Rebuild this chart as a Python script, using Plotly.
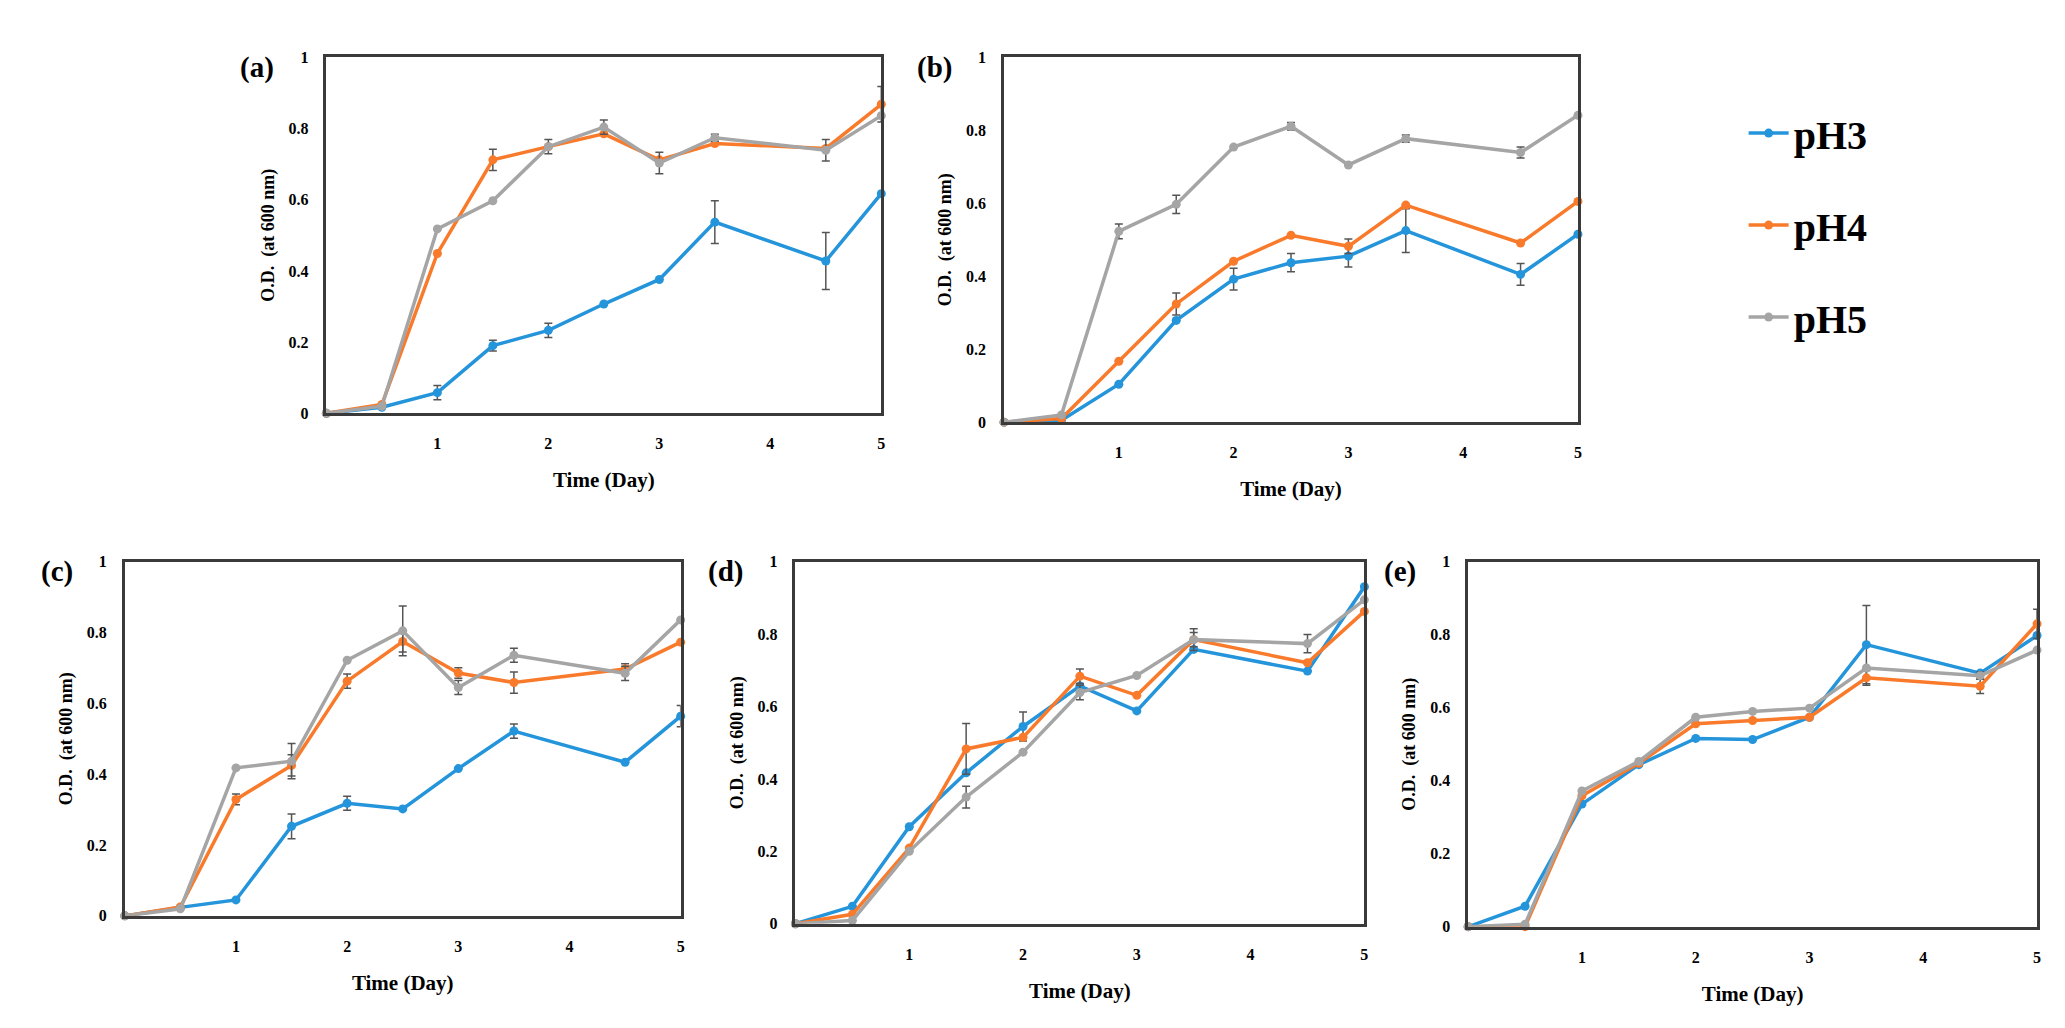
import plotly.graph_objects as go

W, H = 2065, 1028

x_days = [0, 0.5, 1, 1.5, 2, 2.5, 3, 3.5, 4.5, 5]
series_names = ["pH3", "pH4", "pH5"]
series_colors = ["#2494DB", "#F97A2A", "#A5A5A5"]
panel_labels = ["(a)", "(b)", "(c)", "(d)", "(e)"]
x_tickvals = [1, 2, 3, 4, 5]
x_ticktext = ["1", "2", "3", "4", "5"]
y_tickvals = [0, 0.2, 0.4, 0.6, 0.8, 1]
y_ticktext = ["0", "0.2", "0.4", "0.6", "0.8", "1"]

a_ph3 = [0, 0.017, 0.058, 0.19, 0.233, 0.307, 0.376, 0.537, 0.428, 0.617]
a_ph3_err = [0, 0, 0.02, 0.015, 0.02, 0, 0, 0.06, 0.08, 0]
a_ph4 = [0, 0.025, 0.449, 0.712, 0.749, 0.785, 0.712, 0.758, 0.744, 0.868]
a_ph4_err = [0, 0, 0, 0.03, 0, 0, 0, 0, 0, 0.05]
a_ph5 = [0, 0.02, 0.518, 0.597, 0.749, 0.804, 0.703, 0.774, 0.739, 0.836]
a_ph5_err = [0, 0, 0, 0, 0.02, 0.02, 0.03, 0.01, 0.03, 0]

b_ph3 = [0, 0.005, 0.104, 0.279, 0.392, 0.437, 0.455, 0.525, 0.405, 0.515]
b_ph3_err = [0, 0, 0, 0, 0.03, 0.025, 0.03, 0.06, 0.03, 0]
b_ph4 = [0, 0.01, 0.167, 0.324, 0.441, 0.512, 0.482, 0.595, 0.491, 0.605]
b_ph4_err = [0, 0, 0, 0.03, 0, 0, 0.02, 0, 0, 0]
b_ph5 = [0, 0.02, 0.523, 0.597, 0.754, 0.811, 0.705, 0.777, 0.739, 0.841]
b_ph5_err = [0, 0, 0.02, 0.025, 0, 0.01, 0, 0.01, 0.015, 0]

c_ph3 = [0, 0.024, 0.045, 0.253, 0.318, 0.302, 0.416, 0.522, 0.434, 0.564]
c_ph3_err = [0, 0, 0, 0.035, 0.02, 0, 0, 0.02, 0, 0.03]
c_ph4 = [0, 0.025, 0.329, 0.425, 0.663, 0.775, 0.686, 0.659, 0.697, 0.773]
c_ph4_err = [0, 0, 0.015, 0.03, 0.02, 0.03, 0.015, 0.03, 0.015, 0]
c_ph5 = [0, 0.02, 0.418, 0.437, 0.722, 0.805, 0.645, 0.736, 0.685, 0.836]
c_ph5_err = [0, 0, 0, 0.05, 0, 0.07, 0.02, 0.02, 0.02, 0]

d_ph3 = [0, 0.048, 0.268, 0.417, 0.545, 0.657, 0.588, 0.758, 0.698, 0.931]
d_ph3_err = [0, 0, 0, 0, 0.04, 0, 0, 0, 0, 0]
d_ph4 = [0, 0.026, 0.209, 0.483, 0.515, 0.684, 0.631, 0.785, 0.721, 0.863]
d_ph4_err = [0, 0, 0, 0.07, 0, 0.02, 0, 0.02, 0, 0]
d_ph5 = [0, 0.009, 0.2, 0.35, 0.474, 0.639, 0.686, 0.785, 0.774, 0.895]
d_ph5_err = [0, 0, 0, 0.03, 0, 0.02, 0, 0.03, 0.025, 0]

e_ph3 = [0, 0.056, 0.336, 0.444, 0.516, 0.513, 0.574, 0.773, 0.695, 0.798]
e_ph3_err = [0, 0, 0, 0, 0, 0, 0, 0.107, 0, 0]
e_ph4 = [0, 0, 0.359, 0.448, 0.556, 0.565, 0.574, 0.682, 0.659, 0.83]
e_ph4_err = [0, 0, 0, 0, 0, 0, 0, 0.02, 0.02, 0.04]
e_ph5 = [0, 0.007, 0.372, 0.453, 0.574, 0.59, 0.599, 0.709, 0.688, 0.758]
e_ph5_err = [0, 0, 0, 0, 0, 0, 0, 0, 0.01, 0]

panels = [
    [(a_ph3, a_ph3_err), (a_ph4, a_ph4_err), (a_ph5, a_ph5_err)],
    [(b_ph3, b_ph3_err), (b_ph4, b_ph4_err), (b_ph5, b_ph5_err)],
    [(c_ph3, c_ph3_err), (c_ph4, c_ph4_err), (c_ph5, c_ph5_err)],
    [(d_ph3, d_ph3_err), (d_ph4, d_ph4_err), (d_ph5, d_ph5_err)],
    [(e_ph3, e_ph3_err), (e_ph4, e_ph4_err), (e_ph5, e_ph5_err)],
]

# plot-area boxes in pixels: left, top, right, bottom
boxes = [
    (319, 42, 875, 404),
    (998, 42, 1573, 413),
    (117, 555, 674, 915),
    (789, 555, 1359, 923),
    (1463, 555, 2033, 926),
]

SERIF = "Liberation Serif"
AXIS_COLOR = "#3a3a3a"

fig = go.Figure()
layout = dict(
    width=W, height=H,
    margin=dict(l=0, r=0, t=0, b=0),
    paper_bgcolor="white", plot_bgcolor="white",
    font=dict(family=SERIF, color="black"),
    showlegend=True,
    legend=dict(
        x=1739 / W, y=1 - 86 / H, xanchor="left", yanchor="top",
        font=dict(family=SERIF, size=40, color="black", weight="bold"),
        tracegroupgap=37, bgcolor="rgba(0,0,0,0)", itemwidth=40,
    ),
)
annotations = []

for i, (series, box) in enumerate(zip(panels, boxes)):
    n = "" if i == 0 else str(i + 1)
    xa, ya = "x" + n, "y" + n
    l, t, r, b = box
    layout["xaxis" + n] = dict(
        domain=[l / W, r / W], anchor=ya, range=[0, 5],
        tickvals=x_tickvals, ticktext=x_ticktext, ticks="",
        showgrid=False, zeroline=False, showline=True, mirror=True,
        linecolor=AXIS_COLOR, linewidth=2.5,
        tickfont=dict(family=SERIF, size=16, color="black", weight="bold"),
        ticklabelstandoff=14,
        title=dict(text="Time (Day)", standoff=22,
                   font=dict(family=SERIF, size=21, color="black", weight="bold")),
    )
    layout["yaxis" + n] = dict(
        domain=[1 - b / H, 1 - t / H], anchor=xa, range=[0, 1],
        tickvals=y_tickvals, ticktext=y_ticktext, ticks="",
        showgrid=False, zeroline=False, showline=True, mirror=True,
        linecolor=AXIS_COLOR, linewidth=2.5,
        tickfont=dict(family=SERIF, size=16, color="black", weight="bold"),
        ticklabelstandoff=12,
        title=dict(text="O.D.  (at 600 nm)", standoff=10,
                   font=dict(family=SERIF, size=18, color="black", weight="bold")),
    )
    for j, ((vals, errs), name, color) in enumerate(zip(series, series_names, series_colors)):
        fig.add_trace(go.Scatter(
            x=x_days, y=vals, mode="lines+markers", name=name,
            xaxis=xa, yaxis=ya, legendgroup=name, showlegend=(i == 0),
            line=dict(color=color, width=3.5),
            marker=dict(color=color, size=9),
            error_y=dict(type="data", array=errs, visible=True,
                         color="#555555", thickness=1.5, width=4),
            cliponaxis=False,
        ))
    annotations.append(dict(
        text="<b>" + panel_labels[i] + "</b>", xref="x" + n + " domain", yref="y" + n + " domain",
        x=0, y=1, xanchor="right", yanchor="middle", xshift=-50, yshift=-10,
        showarrow=False, font=dict(family=SERIF, size=29, color="black"),
    ))

layout["annotations"] = annotations
fig.update_layout(**layout)
fig.write_html("out.html")
